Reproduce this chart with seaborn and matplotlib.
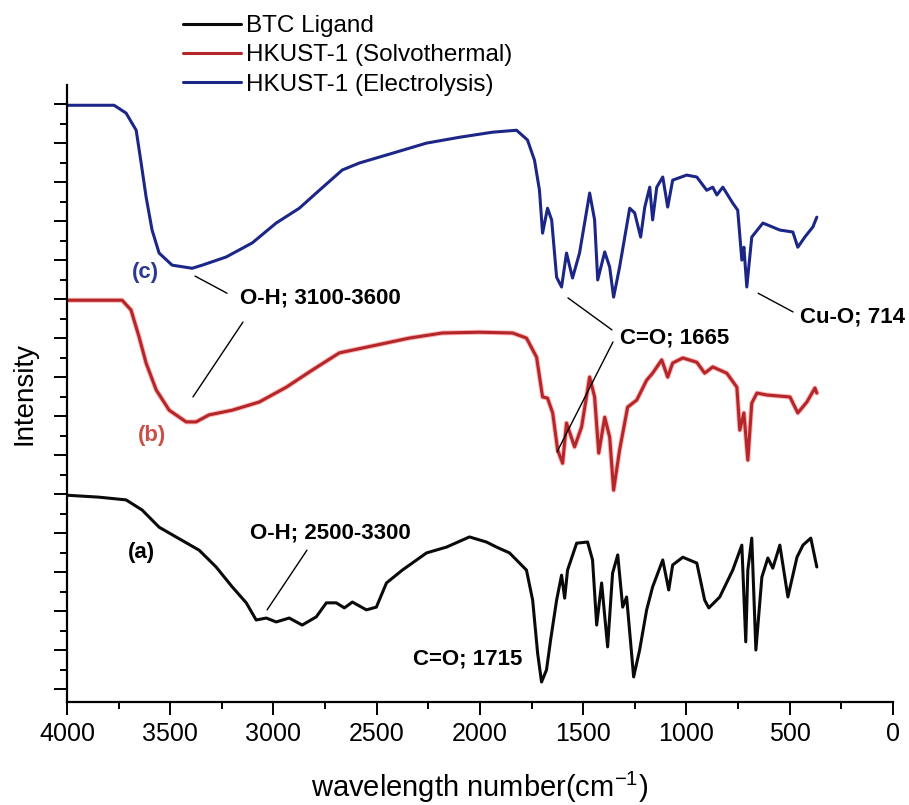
"""
FTIR spectra of BTC ligand and HKUST-1 (solvothermal / electrolysis).
"""

import numpy as np
import pandas as pd
import matplotlib
matplotlib.use('Agg')
import matplotlib.pyplot as plt
import matplotlib.patheffects as pe
from matplotlib.ticker import MultipleLocator
import seaborn as sns

# ---- data (wavenumber in cm^-1, offset intensity in a.u.) ----
btc_wn = [4000, 3845, 3714, 3636, 3554, 3472, 3360, 3278, 3200, 3132, 3084, 3035,
          2987, 2924, 2861, 2793, 2744, 2696, 2657, 2618, 2550, 2502, 2453, 2376,
          2259, 2162, 2051, 1969, 1920, 1857, 1775, 1745, 1721, 1702, 1678, 1658,
          1629, 1605, 1590, 1576, 1532, 1479, 1455, 1435, 1411, 1382, 1358, 1333,
          1309, 1290, 1256, 1227, 1193, 1164, 1115, 1086, 1067, 1018, 950, 912,
          892, 839, 776, 732, 713, 703, 684, 664, 635, 606, 582, 548, 509, 465,
          436, 398, 369]
btc_int = [4.97, 4.92, 4.85, 4.59, 4.15, 3.90, 3.56, 3.13, 2.62, 2.21, 1.77, 1.82,
           1.72, 1.82, 1.64, 1.85, 2.21, 2.21, 2.08, 2.23, 2.03, 2.10, 2.72, 3.05,
           3.49, 3.64, 3.90, 3.77, 3.64, 3.49, 3.05, 2.28, 0.92, 0.18, 0.49, 1.26,
           2.28, 2.92, 2.33, 3.05, 3.74, 3.77, 3.31, 1.64, 2.72, 1.08, 2.97, 3.44,
           2.10, 2.36, 0.31, 1.00, 2.03, 2.62, 3.31, 2.54, 3.18, 3.38, 3.23, 2.28,
           2.08, 2.36, 3.05, 3.69, 1.21, 3.05, 3.87, 1.00, 2.87, 3.36, 3.10, 3.69,
           2.36, 3.38, 3.69, 3.87, 3.13]

solvo_wn = [4000, 3733, 3690, 3651, 3617, 3568, 3505, 3423, 3375, 3312, 3200, 3069,
            2938, 2812, 2681, 2502, 2342, 2182, 2002, 1842, 1775, 1726, 1697, 1673,
            1648, 1624, 1600, 1581, 1542, 1508, 1469, 1445, 1425, 1396, 1372, 1353,
            1324, 1285, 1241, 1193, 1164, 1120, 1091, 1067, 1018, 950, 912, 873,
            805, 756, 742, 722, 703, 684, 659, 611, 499, 461, 417, 378, 369]
solvo_int = [9.97, 9.97, 9.72, 9.03, 8.36, 7.67, 7.15, 6.85, 6.85, 7.03, 7.15, 7.36,
             7.74, 8.18, 8.62, 8.82, 9.00, 9.13, 9.15, 9.13, 9.00, 8.51, 7.49, 7.46,
             7.08, 6.13, 5.79, 6.82, 6.21, 6.72, 8.00, 7.49, 6.05, 6.97, 6.46, 5.10,
             6.13, 7.23, 7.41, 7.92, 8.10, 8.44, 8.00, 8.36, 8.49, 8.38, 8.10, 8.26,
             8.10, 7.74, 6.64, 7.08, 5.87, 7.33, 7.59, 7.54, 7.49, 7.08, 7.36, 7.72,
             7.59]

electro_wn = [4000, 3772, 3714, 3665, 3641, 3617, 3588, 3554, 3491, 3394, 3345, 3229,
              3103, 2987, 2875, 2778, 2667, 2584, 2424, 2259, 2099, 1939, 1823, 1770,
              1736, 1712, 1697, 1673, 1653, 1629, 1605, 1581, 1552, 1518, 1469, 1445,
              1430, 1396, 1372, 1353, 1324, 1275, 1251, 1222, 1202, 1178, 1164, 1144,
              1115, 1091, 1067, 999, 950, 902, 873, 853, 824, 776, 752, 732, 722, 708,
              684, 669, 630, 548, 485, 461, 427, 388, 369]
electro_int = [14.97, 14.97, 14.77, 14.33, 13.49, 12.62, 11.77, 11.18, 10.87, 10.79,
               10.87, 11.08, 11.44, 11.95, 12.33, 12.79, 13.31, 13.49, 13.74, 14.00,
               14.15, 14.28, 14.33, 14.08, 13.56, 12.79, 11.69, 12.33, 12.03, 10.56,
               10.31, 11.18, 10.54, 11.18, 12.72, 12.03, 10.49, 11.21, 10.82, 10.05,
               10.82, 12.33, 12.21, 11.59, 12.36, 12.87, 12.03, 12.87, 13.13, 12.36,
               13.05, 13.18, 13.13, 12.79, 12.87, 12.67, 12.87, 12.46, 12.28, 11.00,
               11.33, 10.31, 11.59, 11.69, 11.95, 11.77, 11.72, 11.33, 11.59, 11.85,
               12.10]

sample_names = ['BTC Ligand', 'HKUST-1 (Solvothermal)', 'HKUST-1 (Electrolysis)']
sample_colors = ['#0a0a0a', '#b3262a', '#1c2687']

df = pd.concat([
    pd.DataFrame({'wn': btc_wn, 'intensity': btc_int, 'sample': sample_names[0]}),
    pd.DataFrame({'wn': solvo_wn, 'intensity': solvo_int, 'sample': sample_names[1]}),
    pd.DataFrame({'wn': electro_wn, 'intensity': electro_int, 'sample': sample_names[2]}),
], ignore_index=True)

# ---- style ----
sns.set_style('ticks')
plt.rcParams['font.family'] = ['Liberation Sans', 'DejaVu Sans']
plt.rcParams['mathtext.fontset'] = 'custom'
plt.rcParams['mathtext.rm'] = 'Liberation Sans'
plt.rcParams['text.color'] = 'black'
plt.rcParams['axes.labelcolor'] = 'black'
plt.rcParams['xtick.color'] = 'black'
plt.rcParams['ytick.color'] = 'black'

fig = plt.figure(figsize=(9.09, 8.05), dpi=100)
ax = fig.add_axes([67 / 909, 103 / 805, 826 / 909, 617 / 805])

sns.lineplot(data=df, x='wn', y='intensity', hue='sample', hue_order=sample_names,
             palette=dict(zip(sample_names, sample_colors)), estimator=None,
             sort=False, linewidth=2.2, ax=ax)

# soft glow on the red trace, as in the original
ax.lines[1].set_path_effects([pe.Stroke(linewidth=3.6, foreground='#ff5a5a', alpha=0.45),
                              pe.Normal()])

ax.set_ylim(-0.333, 15.49)
ax.xaxis.set_minor_locator(MultipleLocator(250))
ax.yaxis.set_major_locator(MultipleLocator(1))
ax.yaxis.set_minor_locator(MultipleLocator(0.5))
ax.tick_params(axis='both', which='major', direction='out', length=9.4, width=1.4,
               color='black')
ax.tick_params(axis='both', which='minor', direction='out', length=5, width=1.4,
               color='black')
ax.tick_params(axis='x', labelsize=18, pad=5, labelcolor='black')
ax.tick_params(axis='y', labelleft=False)
ax.set_xticks(np.arange(0, 4001, 500))
ax.set_xticklabels([f'{int(v)}' for v in np.arange(0, 4001, 500)])
ax.set_xlim(4000, 0)

for side in ['top', 'right']:
    ax.spines[side].set_visible(False)
for side in ['left', 'bottom']:
    ax.spines[side].set_linewidth(1.6)
    ax.spines[side].set_color('black')

ax.set_xlabel(r'wavelength number(cm$^{\mathregular{-1}}$)', fontsize=21, labelpad=17)
ax.set_ylabel('Intensity', fontsize=20, labelpad=12)

# legend
handles, labels = ax.get_legend_handles_labels()
ax.legend(handles, labels, loc='upper left', bbox_to_anchor=(183 / 909, 1 - 15 / 805),
          bbox_transform=fig.transFigure, frameon=False, fontsize=17.5,
          handlelength=2.4, handletextpad=0.2, labelspacing=0.3,
          borderpad=0, borderaxespad=0)

# ---- annotations ----
bold = dict(fontsize=16, fontweight='bold', va='center', ha='left')
ax.text(3685, 10.69, '(c)', color='#2b3990', **bold)
ax.text(3656, 6.51, '(b)', color='#c9504b', **bold)
ax.text(3705, 3.49, '(a)', color='black', **bold)
ax.text(3162, 10.03, 'O-H; 3100-3600', color='black', **bold)
ax.text(3114, 4.00, 'O-H; 2500-3300', color='black', **bold)
ax.text(2324, 0.77, 'C=O; 1715', color='black', **bold)
ax.text(1322, 9.00, 'C=O; 1665', color='black', **bold)
ax.text(450, 9.54, 'Cu-O; 714', color='black', clip_on=False, **bold)

leader_lines = [
    ((3380, 3225), (10.59, 10.15)),
    ((3148, 3390), (9.41, 7.49)),
    ((2838, 3031), (3.56, 2.03)),
    ((1574, 1361), (10.03, 9.21)),
    ((1356, 1627), (8.90, 6.08)),
    ((653, 484), (10.15, 9.67)),
]
for xs, ys in leader_lines:
    ax.plot(xs, ys, color='black', linewidth=1.0)

fig.savefig('out.png', dpi=100)
